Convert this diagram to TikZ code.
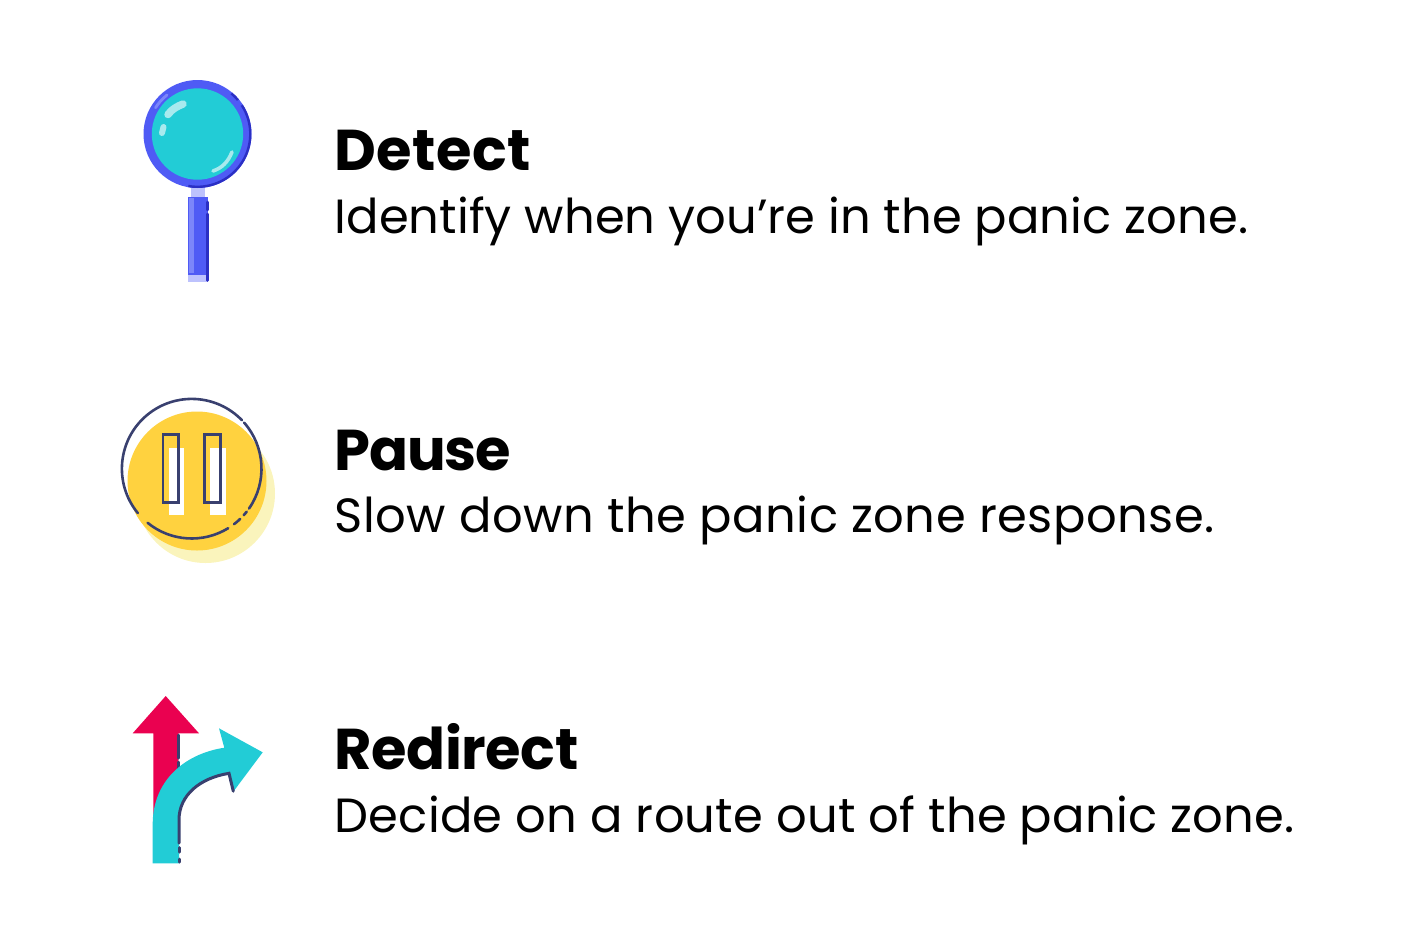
\documentclass[tikz,border=0pt]{standalone}
\usepackage{fontspec}
\setmainfont{Poppins}
\definecolor{ink}{HTML}{000000}
\definecolor{lensc}{HTML}{22CCD6}
\definecolor{rimc}{HTML}{4F5BF5}
\definecolor{rimd}{HTML}{2B2FC4}
\definecolor{paleb}{HTML}{BDC2FD}
\definecolor{lightb}{HTML}{7C86FA}
\definecolor{glint}{HTML}{A8EAEE}
\definecolor{yel}{HTML}{FFD23F}
\definecolor{paley}{HTML}{FAF4BC}
\definecolor{navy}{HTML}{39406F}
\definecolor{redc}{HTML}{EA0150}
\tikzset{
 titletext/.style={anchor=base west,inner sep=0pt,font=\fontsize{57.5}{60}\selectfont\bfseries,text=ink},
 bodytext/.style={anchor=base west,inner sep=0pt,font=\fontsize{48}{54}\selectfont,text=ink},
 navyline/.style={draw=navy,line width=2.6pt,line cap=round},
 darkline/.style={draw=navy,line width=3pt,line cap=round},
 glintline/.style={draw=glint,line cap=round}
}
\newcommand{\trk}[2]{{\addfontfeatures{LetterSpace=#1}#2}}
\begin{document}
\begin{tikzpicture}[x=1pt,y=-1pt]
\useasboundingbox (0,0) rectangle (1416,943);
% magnifier
\fill[paleb] (190.7,186) rectangle (205,198);
\fill[rimc] (197.5,134) circle (54);
\draw[rimd,line width=2.4pt] (197.5,134) ++(35:52.8) arc (35:100:52.8);
\draw[rimd,line width=2.4pt] (197.5,134) ++(-50:52.8) arc (-50:-40:52.8);
\draw[rimd,line width=2.4pt] (197.5,134) ++(-33:52.8) arc (-33:35:52.8);
\fill[lensc] (197.5,134) circle (45.7);
\draw[lightb,line width=2.8pt,line cap=round] (197.5,134) ++(-148:49.5) arc (-148:-128:49.5);
\draw[glintline,line width=7.5pt] (168,114.5) .. controls (172,109) and (177,106.5) .. (183,104);
\draw[glintline,line width=6pt] (162,133) -- (163.5,127);
\draw[glintline,line width=3.6pt] (213,171) .. controls (222,168) and (228,162) .. (232,152);
\fill[rimc] (188,196.7) rectangle (207.5,275);
\fill[paleb] (188,275) rectangle (207.5,281.7);
\fill[lightb] (189,198) rectangle (194,273);
\draw[rimd,line width=2.8pt,line cap=round] (207.6,214) -- (207.6,280.5);
\draw[rimd,line width=2.8pt,line cap=round] (207.6,202) -- (207.6,210);
% pause
\fill[paley] (205.5,493.5) circle (69.5);
\fill[yel] (197,481) circle (69.5);
\fill[white] (169,447.7) rectangle (184,515);
\fill[white] (210,447.7) rectangle (225.7,515);
\draw[navy,line width=2.6pt] (163,434.3) rectangle (178.7,502.7);
\draw[navy,line width=2.6pt] (204.7,434.3) rectangle (220.3,502.7);
\draw[navyline] (191.7,468.7) ++(-41.3:69.8) arc (-41.3:34.8:69.8);
\draw[navyline] (191.7,468.7) ++(38:69.8) arc (38:41.8:69.8);
\draw[navyline] (191.7,468.7) ++(46:69.8) arc (46:52.7:69.8);
\draw[navyline] (191.7,468.7) ++(58.5:69.8) arc (58.5:129.2:69.8);
\draw[navyline] (191.7,468.7) ++(140.5:69.8) arc (140.5:316:69.8);
% redirect
\fill[redc] (165.7,696) -- (199,733.3) -- (178.3,733.3) -- (178.3,790) -- (153.3,815) -- (153.3,733.3) -- (132.7,733.3) -- cycle;
\draw[darkline] (178.3,735) -- (178.3,758);
\draw[darkline] (178.3,762) -- (178.3,768);
\fill[lensc] (152.7,863.3) -- (152.7,823.3) .. controls (153,782) and (183,754) .. (224.3,747.7) -- (219,728.3) -- (262.7,752.3) -- (233.3,791.7) -- (229,773.3) .. controls (200,778) and (179,795) .. (179,820) -- (179,863.3) -- cycle;
\draw[darkline] (233.3,791.2) -- (229,773.3) .. controls (200,778) and (179,795) .. (179,820) -- (179,843);
\draw[darkline] (179,847.5) -- (179,852);
\draw[darkline] (179,859) -- (179,862);
% text
\node[titletext] (t1) at (334.5,170.5) {\trk{0.8}{Detect}};
\node[bodytext] (b1) at (334.5,233.5) {\trk{0.15}{Identify when you’re in the panic zone.}};
\node[titletext] (t2) at (334.5,470) {\trk{-2.0}{Pause}};
\node[bodytext] (b2) at (334.5,532.5) {\trk{1.0}{Slow down the panic zone response.}};
\node[titletext] (t3) at (334.5,769.5) {\trk{-0.8}{Redirect}};
\node[bodytext] (b3) at (334.5,832.5) {\trk{0.46}{Decide on a route out of the panic zone.}};
\end{tikzpicture}
\end{document}
